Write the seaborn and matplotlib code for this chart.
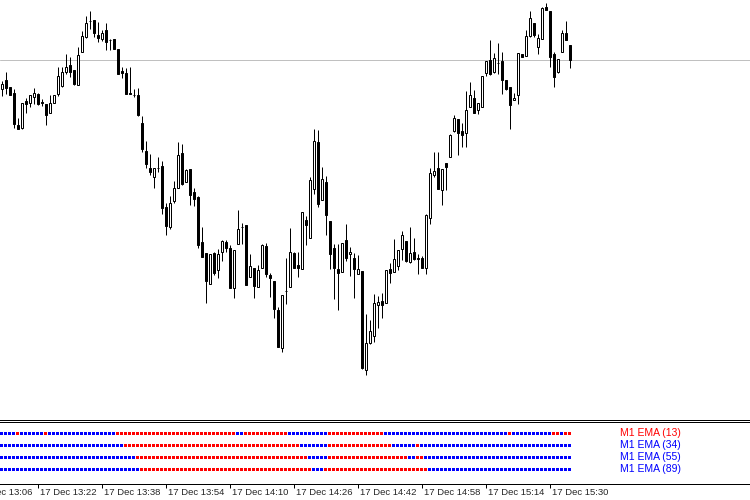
import numpy as np
import pandas as pd
import seaborn as sb
from matplotlib import pyplot as plt

# M1 candles from 17 Dec 13:13, one per minute
# levels are measured down from the top of the price window (chart is inverted)

opens = [88, 79, 86, 92, 124, 127, 100, 102, 96, 93,
         101, 103, 112, 102, 93, 85, 71, 64, 69, 84,
         51, 36, 20, 19, 34, 38, 29, 39, 38, 48,
         70, 72, 92, 94, 94, 122, 150, 167, 176, 167,
         165, 206, 226, 200, 187, 152, 181, 168, 191, 196,
         241, 252, 283, 252, 269, 251, 241, 247, 287, 243,
         226, 224, 276, 267, 286, 267, 245, 274, 280, 309,
         347, 290, 286, 252, 264, 268, 219, 237, 188, 141,
         199, 181, 220, 247, 268, 271, 239, 253, 257, 273,
         270, 369, 342, 335, 304, 300, 302, 268, 271, 265,
         248, 240, 261, 251, 257, 257, 267, 217, 174, 167,
         189, 162, 156, 130, 118, 130, 132, 106, 97, 109,
         106, 72, 59, 71, 62, 60, 79, 86, 99, 94,
         53, 55, 35, 22, 46, 38, 6, 10, 53, 71,
         51, 32, 44]
highs = [80, 71, 86, 88, 117, 102, 97, 94, 87, 92,
         98, 103, 94, 94, 66, 66, 53, 56, 69, 46,
         30, 15, 10, 19, 21, 29, 22, 38, 38, 48,
         66, 67, 66, 88, 87, 115, 140, 153, 167, 156,
         160, 202, 195, 180, 141, 143, 168, 168, 187, 195,
         226, 252, 253, 251, 248, 239, 239, 244, 249, 209,
         222, 224, 253, 267, 264, 243, 242, 272, 280, 306,
         294, 257, 227, 251, 251, 211, 215, 176, 128, 129,
         166, 175, 220, 243, 243, 242, 223, 246, 252, 254,
         270, 313, 319, 293, 295, 292, 269, 262, 238, 249,
         230, 240, 226, 237, 253, 255, 213, 167, 151, 151,
         168, 162, 133, 114, 118, 122, 90, 81, 89, 102,
         75, 60, 39, 52, 42, 51, 79, 86, 92, 52,
         53, 29, 10, 22, 33, 6, 2, 10, 51, 58,
         29, 20, 44]
lows = [95, 93, 94, 127, 128, 128, 112, 106, 103, 104,
        105, 124, 112, 102, 95, 86, 73, 76, 84, 84,
        51, 37, 28, 36, 41, 40, 49, 49, 48, 73,
        77, 93, 93, 96, 115, 151, 167, 174, 187, 171,
        213, 234, 228, 202, 187, 184, 181, 204, 205, 247,
        256, 302, 283, 274, 277, 260, 251, 287, 297, 243,
        243, 284, 276, 297, 286, 267, 276, 296, 317, 346,
        351, 303, 286, 267, 276, 268, 244, 237, 193, 206,
        199, 234, 268, 298, 309, 271, 260, 275, 297, 273,
        368, 374, 343, 341, 327, 317, 302, 282, 271, 269,
        259, 261, 262, 259, 273, 267, 273, 223, 176, 188,
        204, 189, 156, 131, 154, 146, 146, 106, 112, 113,
        106, 75, 74, 72, 73, 93, 89, 128, 99, 103,
        56, 55, 36, 36, 53, 38, 9, 66, 86, 72,
        51, 39, 67]
closes = [83, 87, 94, 123, 128, 102, 103, 94, 92, 103,
          102, 114, 102, 94, 75, 71, 66, 71, 83, 54,
          35, 22, 20, 32, 37, 32, 41, 39, 48, 73,
          72, 93, 93, 94, 114, 148, 163, 171, 167, 167,
          207, 225, 202, 187, 154, 183, 169, 194, 198, 244,
          256, 280, 253, 272, 253, 240, 247, 287, 249, 228,
          226, 284, 265, 285, 269, 244, 273, 277, 308, 346,
          294, 290, 251, 267, 267, 211, 224, 179, 140, 203,
          178, 214, 253, 267, 272, 242, 257, 251, 268, 268,
          367, 342, 330, 302, 301, 304, 269, 272, 258, 249,
          234, 260, 252, 258, 258, 267, 214, 172, 170, 188,
          168, 166, 134, 117, 132, 134, 109, 94, 112, 102,
          75, 60, 73, 57, 62, 79, 88, 104, 97, 52,
          56, 35, 17, 34, 37, 7, 9, 56, 76, 58,
          32, 39, 59]
bid_level = 59

# EMA trend dots per minute: runs of (signal, minutes), b = up (blue), r = down (red)
ema_names = ['M1 EMA (13)', 'M1 EMA (34)', 'M1 EMA (55)', 'M1 EMA (89)']
ema_name_colors = ['#ff0000', '#0000ff', '#0000ff', '#0000ff']
ema13_runs = [('b', 4), ('r', 1), ('b', 6), ('r', 1), ('b', 17), ('r', 30), ('b', 2),
              ('r', 11), ('b', 10), ('r', 14), ('b', 31), ('r', 1), ('b', 10), ('r', 2),
              ('b', 1), ('r', 2)]
ema34_runs = [('b', 31), ('r', 44), ('b', 7), ('r', 16), ('b', 6), ('r', 1), ('b', 38)]
ema55_runs = [('b', 34), ('r', 43), ('b', 5), ('r', 20), ('b', 2), ('r', 2), ('b', 37)]
ema89_runs = [('b', 35), ('r', 43), ('b', 3), ('r', 26), ('b', 36)]

first_minute = '13:13'
time_labels = ['17 Dec 13:06', '17 Dec 13:22', '17 Dec 13:38', '17 Dec 13:54', '17 Dec 14:10',
               '17 Dec 14:26', '17 Dec 14:42', '17 Dec 14:58', '17 Dec 15:14', '17 Dec 15:30']

# Build tables

candles = pd.DataFrame({'open': opens, 'high': highs, 'low': lows, 'close': closes})
candles['minute'] = np.arange(len(candles))
candles['top'] = candles[['open', 'close']].min(axis=1)
candles['body'] = (candles.open - candles.close).abs()
candles['fill'] = np.where(candles.close > candles.open, 'black', 'white')

rows = []
for r, runs in enumerate([ema13_runs, ema34_runs, ema55_runs, ema89_runs]):
    m = 0
    for sig, n in runs:
        for i in range(n):
            rows.append({'minute': m, 'row': r, 'signal': sig})
            m += 1
dots = pd.DataFrame(rows)

def to_min(s):
    h, mm = s.split(':')
    return int(h) * 60 + int(mm)

start = to_min(first_minute)
tick_min = [to_min(t.split(' ')[-1]) - start for t in time_labels]

# Plot (limits chosen so 1 minute = 4 px and marks sit on whole pixels)

sb.set_style('white')
plt.rcParams['font.family'] = ['Liberation Sans', 'DejaVu Sans']

px = 0.72  # one pixel in points at dpi 100
xlim = (-0.375, 187.125)

fig = plt.figure(figsize=(7.5, 5), dpi=100)
ax = fig.add_axes([0, 0.161, 1, 0.839])
ax2 = fig.add_axes([0, 0.033, 1, 0.124])

ax.axhline(bid_level, color='#c0c0c0', lw=px, zorder=0)
ax.vlines(candles.minute, candles.high, candles.low, color='black', lw=px, zorder=1)
ax.bar(candles.minute, candles.body, bottom=candles.top, width=0.5,
       color=candles['fill'], edgecolor='black', linewidth=px, zorder=2)
ax.set_xlim(*xlim)
ax.set_ylim(419, -0.5)
ax.set_xticks([])
ax.set_yticks([])
for s in ['top', 'left', 'right']:
    ax.spines[s].set_visible(False)
ax.spines['bottom'].set_color('black')
ax.spines['bottom'].set_linewidth(px)

sb.scatterplot(data=dots, x='minute', y='row', hue='signal',
               palette={'b': '#0000ff', 'r': '#ff0000'}, marker='s', s=4.67,
               linewidth=0, legend=False, ax=ax2)
for r in range(len(ema_names)):
    ax2.text(154.5, r, ema_names[r], color=ema_name_colors[r], fontsize=7.5,
             ha='left', va='center')
ax2.set_xlim(*xlim)
ax2.set_ylim(4.1667, -1.0)
ax2.set_xlabel('')
ax2.set_ylabel('')
ax2.set_yticks([])
ax2.set_xticks([t for t in tick_min if t > 0])
ax2.tick_params(axis='x', bottom=True, direction='out', length=3, width=px,
                color='black', labelbottom=False)
for s in ['left', 'right']:
    ax2.spines[s].set_visible(False)
for s in ['top', 'bottom']:
    ax2.spines[s].set_color('black')
    ax2.spines[s].set_linewidth(px)
for t, lab in zip(tick_min, time_labels):
    ax2.text(t + 0.5, -0.15, lab, transform=ax2.get_xaxis_transform(),
             fontsize=6.8, ha='left', va='center', clip_on=False)

plt.savefig('out.png', dpi=100)
